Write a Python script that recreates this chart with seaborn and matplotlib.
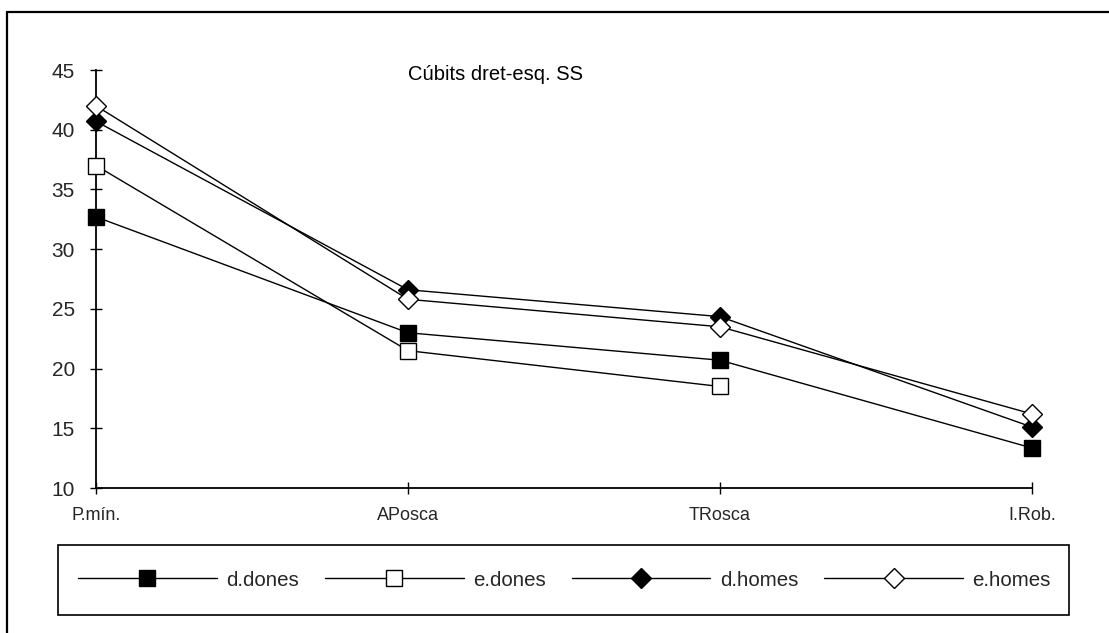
import numpy as np
import pandas as pd
import matplotlib
matplotlib.use("Agg")
import matplotlib.pyplot as plt
from matplotlib.lines import Line2D
from matplotlib.patches import Rectangle
import seaborn as sns

categories = ["P.mín.", "APosca", "TRosca", "I.Rob."]
d_dones = [32.7, 23.0, 20.7, 13.35]
e_dones = [37.0, 21.5, 18.5, np.nan]
d_homes = [40.7, 26.6, 24.35, 15.1]
e_homes = [42.0, 25.8, 23.5, 16.2]
series_names = ["d.dones", "e.dones", "d.homes", "e.homes"]
y_ticks = [10, 15, 20, 25, 30, 35, 40, 45]
title = "Cúbits dret-esq. SS"

sns.set_theme(style="white")
plt.rcParams["font.family"] = ["Liberation Sans", "DejaVu Sans"]

W, H = 1109, 633
fig = plt.figure(figsize=(W / 100, H / 100), dpi=100)
ax = fig.add_axes([96 / W, 1 - 488 / H, (1032 - 96) / W, (488 - 70) / H])

styles = {
    "d.dones": dict(marker="s", markersize=11.5, markerfacecolor="black"),
    "e.dones": dict(marker="s", markersize=11.5, markerfacecolor="white"),
    "d.homes": dict(marker="D", markersize=10.5, markerfacecolor="black"),
    "e.homes": dict(marker="D", markersize=10.5, markerfacecolor="white"),
}
values = {"d.dones": d_dones, "e.dones": e_dones, "d.homes": d_homes, "e.homes": e_homes}
xpos = list(range(len(categories)))
for name in series_names:
    df = pd.DataFrame({"x": xpos, "y": values[name]}).dropna()
    sns.lineplot(data=df, x="x", y="y", ax=ax, color="black", linewidth=1.0,
                 markeredgecolor="black", markeredgewidth=1.0, label=name,
                 legend=False, clip_on=False, zorder=3, **styles[name])

ax.set_xlim(0, 3)
ax.set_ylim(10, 45)
ax.set_xticks(xpos)
ax.set_xticklabels(categories, fontsize=13)
ax.set_yticks(y_ticks)
ax.set_yticklabels([str(t) for t in y_ticks], fontsize=15)
ax.set_xlabel("")
ax.set_ylabel("")
for s in ["top", "right"]:
    ax.spines[s].set_visible(False)
for s in ["left", "bottom"]:
    ax.spines[s].set_color("black")
    ax.spines[s].set_linewidth(1.3)
ax.tick_params(axis="y", direction="inout", length=8.5, width=1.0, color="black", pad=11, left=True)
ax.tick_params(axis="x", direction="inout", length=8, width=1.0, color="black", pad=10, bottom=True)
ax.grid(False)

ax.text(408 / W, 1 - 75 / H, title, transform=fig.transFigure, fontsize=14.5,
        ha="left", va="center", color="black")

# legend box
x0, x1, y0, y1 = 58, 1069, 545, 615
fig.add_artist(Rectangle((x0 / W, 1 - y1 / H), (x1 - x0) / W, (y1 - y0) / H,
                         transform=fig.transFigure, fill=False, edgecolor="black", linewidth=1.2))

handles, labels = ax.get_legend_handles_labels()
leg = fig.legend(handles, labels, loc="center left", ncol=4,
                 bbox_to_anchor=(78 / W, 1 - 580 / H),
                 fontsize=14.8, frameon=False, borderpad=0, borderaxespad=0,
                 handlelength=6.75, handletextpad=0.47, columnspacing=1.25,
                 numpoints=1)

fig.add_artist(Line2D([7 / W, 1.0], [1 - 12 / H, 1 - 12 / H], transform=fig.transFigure, color="black", linewidth=1.6))
fig.add_artist(Line2D([7 / W, 7 / W], [1 - 12 / H, 0.0], transform=fig.transFigure, color="black", linewidth=1.6))

fig.savefig("out.png", dpi=100, facecolor="white")
